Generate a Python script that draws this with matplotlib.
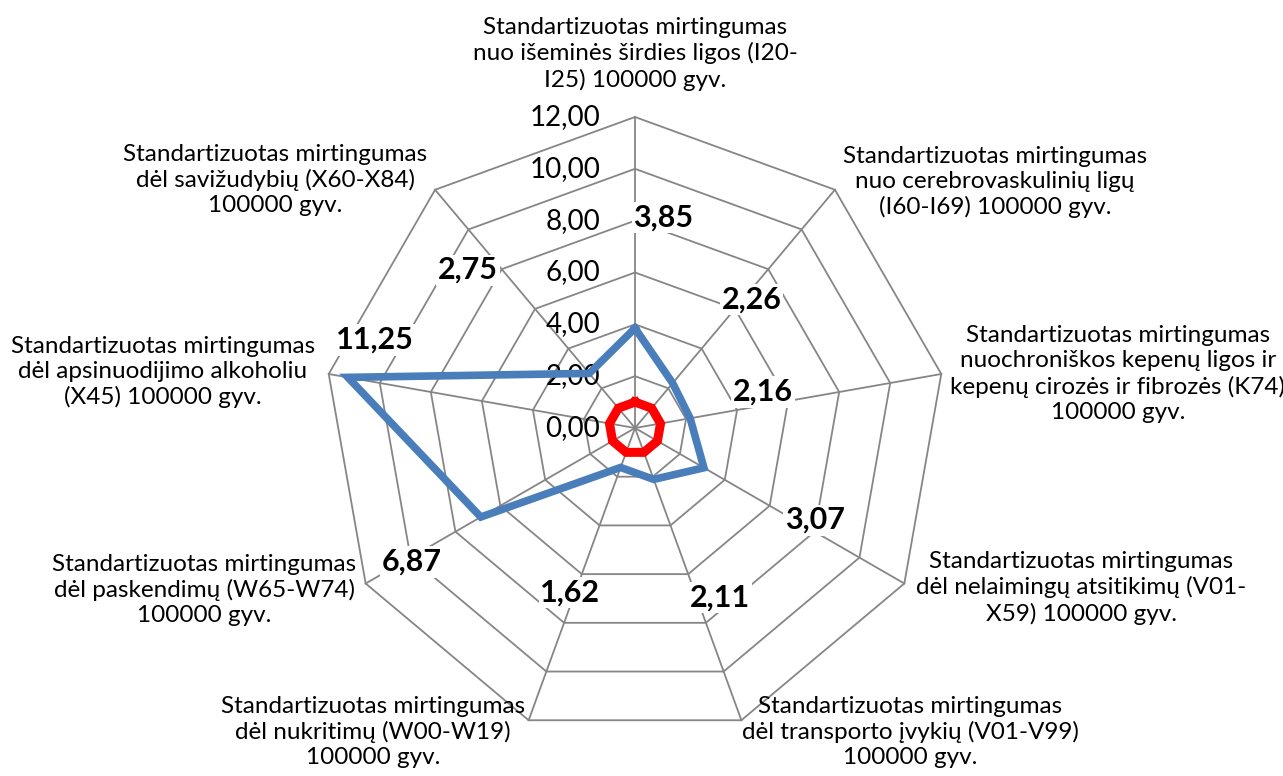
import numpy as np
import matplotlib
matplotlib.use('Agg')
import matplotlib.pyplot as plt

plt.rcParams['font.family'] = ['Lato', 'DejaVu Sans']

# -- data
categories = [
    'Standartizuotas mirtingumas\nnuo išeminės širdies ligos (I20-\nI25) 100000 gyv.',
    'Standartizuotas mirtingumas\nnuo cerebrovaskulinių ligų\n(I60-I69) 100000 gyv.',
    'Standartizuotas mirtingumas\nnuochroniškos kepenų ligos ir\nkepenų cirozės ir fibrozės (K74)\n100000 gyv.',
    'Standartizuotas mirtingumas\ndėl nelaimingų atsitikimų (V01-\nX59) 100000 gyv.',
    'Standartizuotas mirtingumas\ndėl transporto įvykių (V01-V99)\n100000 gyv.',
    'Standartizuotas mirtingumas\ndėl nukritimų (W00-W19)\n100000 gyv.',
    'Standartizuotas mirtingumas\ndėl paskendimų (W65-W74)\n100000 gyv.',
    'Standartizuotas mirtingumas\ndėl apsinuodijimo alkoholiu\n(X45) 100000 gyv.',
    'Standartizuotas mirtingumas\ndėl savižudybių (X60-X84)\n100000 gyv.',
]
ratio = [3.85, 2.26, 2.16, 3.07, 2.11, 1.62, 6.87, 11.25, 2.75]
base = [1, 1, 1, 1, 1, 1, 1, 1, 1]
rticks = [0, 2, 4, 6, 8, 10, 12]

# label placement (pixels in the 1283x776 figure)
cat_pos = [(635, 54), (995, 182), (1118, 374), (1081, 588), (910, 732),
           (373, 732), (204, 590), (163, 372), (275, 180)]
# data label placement (theta deg, r in data units)
lab_pos = [(7.6, 8.2), (42.4, 6.69), (74.3, 5.13), (117.1, 7.8), (153.4, 7.33),
           (201.5, 6.84), (239.0, 10.04), (288.7, 10.59), (313.4, 8.87)]

W, H = 1283, 776
cx, cy, R = 635, 428, 311

fig = plt.figure(figsize=(W/100, H/100), dpi=100)
ax = fig.add_axes([(cx-R)/W, (H-cy-R)/H, 2*R/W, 2*R/H], projection='polar')
ax.set_theta_zero_location('N')
ax.set_theta_direction(-1)
ax.set_ylim(0, 12)
ax.grid(False)
ax.set_xticks([])
ax.set_yticks([])
ax.spines['polar'].set_visible(False)
ax.patch.set_visible(False)

n = len(ratio)
theta = np.arange(n) * 2*np.pi/n
closed = np.append(theta, theta[0])

gc = '#868686'
for v in rticks[1:]:
    ax.plot(closed, [v]*(n+1), color=gc, lw=1.3, clip_on=False, zorder=1)
for t in theta:
    ax.plot([t, t], [0, 12], color=gc, lw=1.3, clip_on=False, zorder=1)

ax.plot(closed, np.append(ratio, ratio[0]), color='#4A7EBB', lw=5.5,
        solid_joinstyle='miter', clip_on=False, zorder=3)
ax.plot(closed, np.append(base, base[0]), color='#FF0000', lw=6.5,
        solid_joinstyle='miter', clip_on=False, zorder=3)

for v in rticks:
    ax.annotate('{:.2f}'.format(v).replace('.', ','), xy=(0, v),
                xytext=(-25, 0), textcoords='offset points',
                ha='right', va='center', fontsize=20, zorder=2)

for (t, r), v in zip(lab_pos, ratio):
    ax.text(np.deg2rad(t), r, '{:.2f}'.format(v).replace('.', ','),
            ha='center', va='center', fontsize=22, fontweight='bold', zorder=4,
            bbox=dict(facecolor='white', edgecolor='none', pad=1))

for (x, y), s in zip(cat_pos, categories):
    fig.text(x/W, 1 - y/H, s, ha='center', va='center', fontsize=17.5,
             linespacing=1.25)

fig.savefig('out.png', dpi=100)
